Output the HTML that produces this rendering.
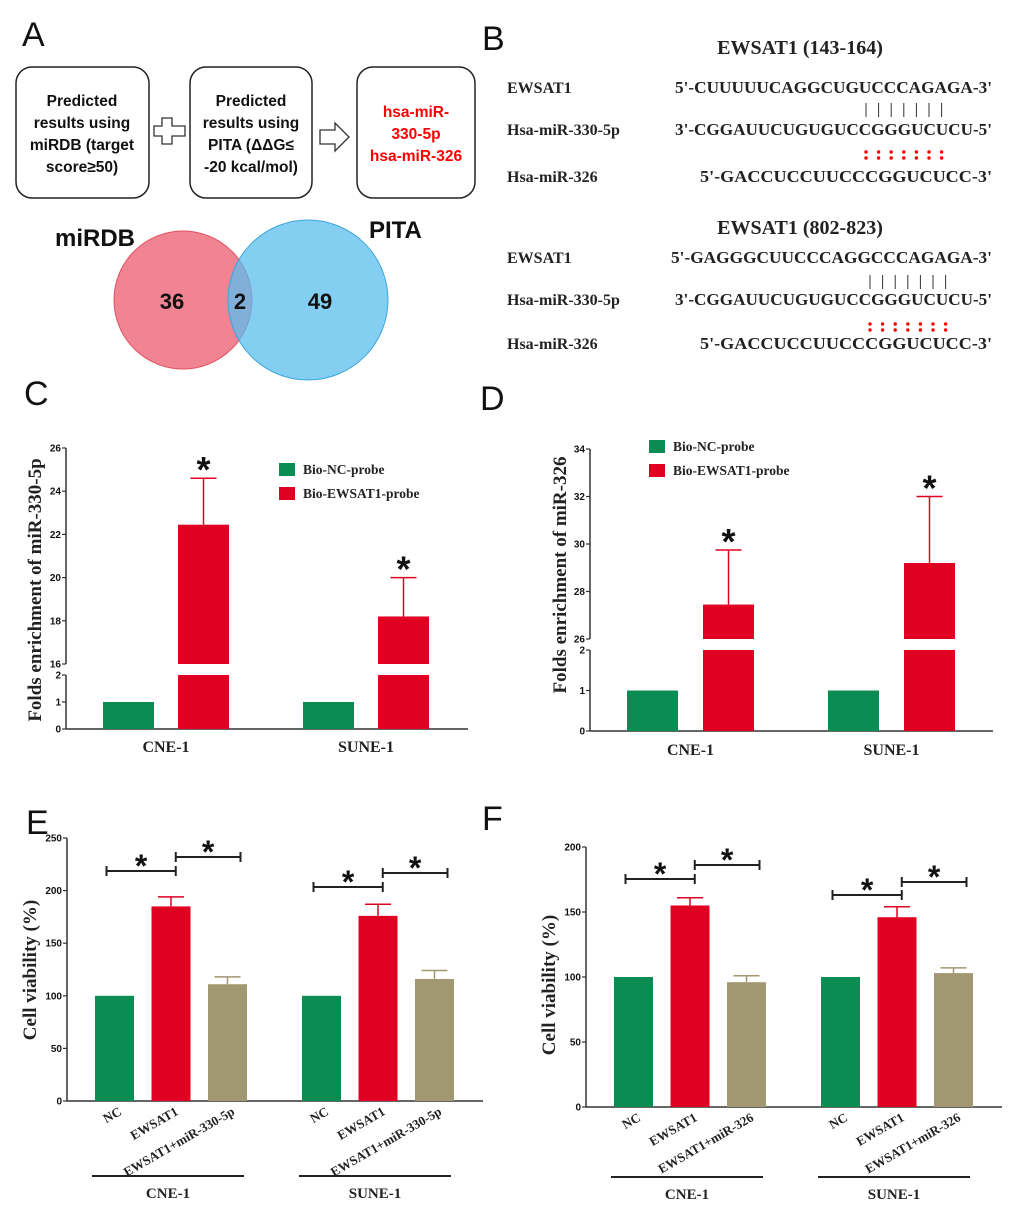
<!DOCTYPE html>
<html><head><meta charset="utf-8"><style>
html,body{margin:0;padding:0;background:#fff;}
svg{display:block;}
.pl{font-family:"Liberation Sans",sans-serif;font-size:34px;fill:#111;}
.tb{font-family:"Liberation Sans",sans-serif;font-weight:bold;fill:#111;}
.tm{font-family:"Liberation Serif",serif;font-weight:bold;fill:#222;}
</style></head><body>
<svg id="fig" width="1020" height="1224" viewBox="0 0 1020 1224" xmlns="http://www.w3.org/2000/svg">
<text class="pl" x="22" y="46">A</text>
<text class="pl" x="482" y="50">B</text>
<text class="pl" x="24" y="405">C</text>
<text class="pl" x="480" y="410">D</text>
<text class="pl" x="26" y="834">E</text>
<text class="pl" x="482" y="830">F</text>

<g>
<rect x="16" y="67" width="133" height="131" rx="16" fill="#fff" stroke="#222" stroke-width="1.5"/>
<g class="tb" font-size="15.5" text-anchor="middle">
<text x="82" y="106">Predicted</text><text x="82" y="128">results using</text><text x="82" y="150">miRDB (target</text><text x="82" y="172">score≥50)</text></g>
<path d="M162,118 h10 v8 h13 v10 h-13 v8 h-10 v-8 h-8 v-10 h8 z" fill="#fff" stroke="#333" stroke-width="1.3"/>
<rect x="190" y="67" width="122" height="131" rx="16" fill="#fff" stroke="#222" stroke-width="1.5"/>
<g class="tb" font-size="15.5" text-anchor="middle">
<text x="251" y="106">Predicted</text><text x="251" y="128">results using</text><text x="251" y="150">PITA (ΔΔG≤</text><text x="251" y="172">-20 kcal/mol)</text></g>
<path d="M320,130 h15 v-7 l14,14 l-14,14 v-7 h-15 z" fill="#fff" stroke="#333" stroke-width="1.3"/>
<rect x="357" y="67" width="118" height="131" rx="16" fill="#fff" stroke="#222" stroke-width="1.5"/>
<g class="tb" font-size="15.5" text-anchor="middle" style="fill:#f00">
<text x="416" y="117" style="fill:#f00">hsa-miR-</text><text x="416" y="139" style="fill:#f00">330-5p</text><text x="416" y="161" style="fill:#f00">hsa-miR-326</text></g>
</g>
<g>
<circle cx="183" cy="300" r="69" fill="#ef6f7f" fill-opacity="0.85" stroke="#e05060"/>
<circle cx="308" cy="300" r="80" fill="#5bbdee" fill-opacity="0.75" stroke="#3aa6de"/>
<text class="tb" font-size="24" x="55" y="246">miRDB</text>
<text class="tb" font-size="24" x="369" y="238">PITA</text>
<text class="tb" font-size="22" x="172" y="309" text-anchor="middle">36</text>
<text class="tb" font-size="22" x="240" y="309" text-anchor="middle">2</text>
<text class="tb" font-size="22" x="320" y="309" text-anchor="middle">49</text>
</g>

<g id="panelB"></g>
<g id="panelC"></g>
<g id="panelD"></g>
<g id="panelE"></g>
<g id="panelF"></g>
</svg>
<script>
const cGroups = ["CNE-1","SUNE-1"];
const cNC = [1,1];
const cEW = [22.45,18.2];
const cEWerr = [2.15,1.8];
const cUpperTicks = [16,18,20,22,24,26];
const cLowerTicks = [0,1,2];

const dGroups = ["CNE-1","SUNE-1"];
const dNC = [1,1];
const dEW = [27.45,29.2];
const dEWerr = [2.3,2.8];
const dUpperTicks = [26,28,30,32,34];
const dLowerTicks = [0,1,2];

const eGroups = ["CNE-1","SUNE-1"];
const eCats = ["NC","EWSAT1","EWSAT1+miR-330-5p"];
const eVals = [[100,185,111],[100,176,116]];
const eErrs = [[0,9,7],[0,11,8]];
const eTicks = [0,50,100,150,200,250];

const fGroups = ["CNE-1","SUNE-1"];
const fCats = ["NC","EWSAT1","EWSAT1+miR-326"];
const fVals = [[100,155,96],[100,146,103]];
const fErrs = [[0,6,5],[0,8,4]];
const fTicks = [0,50,100,150,200];

const NS="http://www.w3.org/2000/svg";
const GREEN="#0b8c52", RED="#e00022", KHAKI="#a19770";
function mk(parent,tag,attrs,text){
  const el=document.createElementNS(NS,tag);
  for(const k in attrs) el.setAttribute(k,attrs[k]);
  if(text!==undefined) el.textContent=text;
  parent.appendChild(el); return el;
}

(function(){
  const g=document.getElementById('panelB');
  const blocks=[
    {title:"EWSAT1 (143-164)",ty:54,rows:[93,135,182],bars:[103,117],barX:866,dotY:155,
     seqs:["5'-CUUUUUCAGGCUGUCCCAGAGA-3'","3'-CGGAUUCUGUGUCCGGGUCUCU-5'","5'-GACCUCCUUCCCGGUCUCC-3'"],starts:[675,675,700]},
    {title:"EWSAT1 (802-823)",ty:234,rows:[263,305,349],bars:[275,289],barX:870,dotY:327,
     seqs:["5'-GAGGGCUUCCCAGGCCCAGAGA-3'","3'-CGGAUUCUGUGUCCGGGUCUCU-5'","5'-GACCUCCUUCCCGGUCUCC-3'"],starts:[671,675,700]}
  ];
  const labels=["EWSAT1","Hsa-miR-330-5p","Hsa-miR-326"];
  blocks.forEach((b,bi)=>{
    const t=mk(g,'text',{x:800,y:b.ty,'text-anchor':'middle','class':'tm','font-size':'20'},b.title);
    
    
    b.rows.forEach((y,ri)=>{
      const l=mk(g,'text',{x:507,y:y,'class':'tm','font-size':'16'},labels[ri]);
      
      
      const s=mk(g,'text',{x:b.starts[ri],y:y,'class':'tm','font-size':'17',textLength:992-b.starts[ri],lengthAdjust:'spacingAndGlyphs'},b.seqs[ri]);
      
      
    });
    for(let i=0;i<7;i++){
      const x=b.barX+i*12.6;
      const ln=mk(g,'line',{x1:x,x2:x,y1:b.bars[0],y2:b.bars[1],stroke:'#333','stroke-width':1});
      
      
      for(const dy of [-3,3]){
        const c=mk(g,'circle',{cx:x,cy:b.dotY+dy,r:1.7,fill:'#f00'});
        
        
      }
    }
  });
})();

function brokenChart(id,o){
  const g=document.getElementById(id);
  const yU=v=>o.uTop+(o.uMax-v)*(o.uBot-o.uTop)/(o.uMax-o.uMin);
  const yL=v=>o.lBot-(v)*(o.lBot-o.lTop)/o.lMax;
  const ax=o.ax;
  let a=mk(g,'line',{x1:ax,x2:ax,y1:yU(o.uMax),y2:yU(o.uMin),stroke:'#333','stroke-width':1.5});
   
  a=mk(g,'line',{x1:ax,x2:ax,y1:yL(o.lMax),y2:yL(0),stroke:'#333','stroke-width':1.5});
   
  a=mk(g,'line',{x1:ax,x2:o.axEnd,y1:yL(0),y2:yL(0),stroke:'#333','stroke-width':1.5});
   
  o.uTicks.forEach(v=>{
    const y=yU(v);
    const t=mk(g,'line',{x1:ax-4,x2:ax,y1:y,y2:y,stroke:'#333','stroke-width':1.2});
     
    const l=mk(g,'text',{x:ax-5,y:y+3.5,'text-anchor':'end','class':'tb','font-size':'10'},v);
     
  });
  o.lTicks.forEach(v=>{
    const y=yL(v);
    const t=mk(g,'line',{x1:ax-4,x2:ax,y1:y,y2:y,stroke:'#333','stroke-width':1.2});
     
    const l=mk(g,'text',{x:ax-5,y:y+3.5,'text-anchor':'end','class':'tb','font-size':'10'},v);
     
  });
  const yl=mk(g,'text',{x:0,y:0,'text-anchor':'middle','class':'tm','font-size':'19',transform:`translate(${o.ylx},${o.yly}) rotate(-90)`},o.ytitle);
   
  o.groups.forEach((grp,i)=>{
    const gx=o.g0+i*o.gstep;
    const bw=51;
    const b1=mk(g,'rect',{x:gx,y:yL(o.nc[i]),width:bw,height:yL(0)-yL(o.nc[i]),fill:GREEN});
     
    const rx=gx+o.off;
    const b2=mk(g,'rect',{x:rx,y:yL(o.lMax),width:bw,height:yL(0)-yL(o.lMax),fill:RED});
     
    const b3=mk(g,'rect',{x:rx,y:yU(o.ew[i]),width:bw,height:yU(o.uMin)-yU(o.ew[i]),fill:RED});
     
    const cx=rx+bw/2, ye=yU(o.ew[i]+o.err[i]);
    const e1=mk(g,'line',{x1:cx,x2:cx,y1:yU(o.ew[i]),y2:ye,stroke:RED,'stroke-width':1.5});
     
    const e2=mk(g,'line',{x1:cx-13,x2:cx+13,y1:ye,y2:ye,stroke:RED,'stroke-width':1.5});
     
    const st=mk(g,'text',{x:cx,y:ye+4,'text-anchor':'middle','class':'tb','font-size':'36'},'*');
     
    const xl=mk(g,'text',{x:(gx+rx+bw)/2,y:o.xly,'text-anchor':'middle','class':'tm','font-size':'16'},grp);
     
  });
  [["Bio-NC-probe",GREEN],["Bio-EWSAT1-probe",RED]].forEach((L,i)=>{
    const y=o.legY+i*24;
    const r=mk(g,'rect',{x:o.legX,y:y,width:16,height:13,fill:L[1]});
     
    const t=mk(g,'text',{x:o.legX+24,y:y+11,'class':'tm','font-size':'13.5'},L[0]);
     
  });
}
brokenChart('panelC',{ax:66,axEnd:468,uTop:448,uBot:664,uMin:16,uMax:26,lTop:675,lBot:729,lMax:2,
  uTicks:cUpperTicks,lTicks:cLowerTicks,groups:cGroups,nc:cNC,ew:cEW,err:cEWerr,g0:103,gstep:200,off:75,
  ylx:41,yly:590,ytitle:"Folds enrichment of miR-330-5p",xly:752,legX:279,legY:463});
brokenChart('panelD',{ax:590,axEnd:993,uTop:449,uBot:639,uMin:26,uMax:34,lTop:650,lBot:731,lMax:2,
  uTicks:dUpperTicks,lTicks:dLowerTicks,groups:dGroups,nc:dNC,ew:dEW,err:dEWerr,g0:627,gstep:201,off:76,
  ylx:566,yly:575,ytitle:"Folds enrichment of miR-326",xly:755,legX:649,legY:440});

function vChart(id,o){
  const g=document.getElementById(id);
  const y=v=>o.y0-v*(o.y0-o.yTop)/o.yMax;
  let a=mk(g,'line',{x1:o.ax,x2:o.ax,y1:y(o.yMax),y2:y(0),stroke:'#333','stroke-width':1.5});
   
  a=mk(g,'line',{x1:o.ax,x2:o.axEnd,y1:y(0),y2:y(0),stroke:'#333','stroke-width':1.5});
   
  o.ticks.forEach(v=>{
    const t=mk(g,'line',{x1:o.ax-4,x2:o.ax,y1:y(v),y2:y(v),stroke:'#333','stroke-width':1.2});
     
    const l=mk(g,'text',{x:o.ax-5,y:y(v)+3.5,'text-anchor':'end','class':'tb','font-size':'10'},v);
     
  });
  const yl=mk(g,'text',{x:0,y:0,'text-anchor':'middle','class':'tm','font-size':'19',transform:`translate(${o.ylx},${o.yly}) rotate(-90)`},"Cell viability (%)");
   
  const cols=[GREEN,RED,KHAKI], bw=39;
  o.groups.forEach((grp,gi)=>{
    const centers=[];
    o.vals[gi].forEach((v,ci)=>{
      const x=o.g0+gi*o.gstep+ci*o.cstep;
      const cx=x+bw/2; centers.push(cx);
      const b=mk(g,'rect',{x:x,y:y(v),width:bw,height:y(0)-y(v),fill:cols[ci]});
       
      if(o.errs[gi][ci]>0){
        const ye=y(v+o.errs[gi][ci]);
        const e1=mk(g,'line',{x1:cx,x2:cx,y1:y(v),y2:ye,stroke:cols[ci],'stroke-width':1.5});
         
        const e2=mk(g,'line',{x1:cx-13,x2:cx+13,y1:ye,y2:ye,stroke:cols[ci],'stroke-width':1.5});
         
      }
      const tl=mk(g,'text',{x:0,y:0,'text-anchor':'end','class':'tm','font-size':'13',transform:`translate(${cx+8},${y(0)+13}) rotate(-30)`},o.cats[ci]);
       
    });
    const br=o.brk[gi];
    [[centers[0]-8,centers[1]+(o.cstep-bw)/2-4,br[0]],[centers[1]+(o.cstep-bw)/2-4,centers[2]+13,br[1]]].forEach(B=>{
      const p=mk(g,'path',{d:`M${B[0]},${B[2]-5}v10M${B[0]},${B[2]}H${B[1]}M${B[1]},${B[2]-5}v10`,stroke:'#222','stroke-width':2,fill:'none'});
       
      const s=mk(g,'text',{x:(B[0]+B[1])/2,y:B[2]+6,'text-anchor':'middle','class':'tb','font-size':'32'},'*');
       
    });
    const ux0=o.g0+gi*o.gstep-3, ux1=o.g0+gi*o.gstep+2*o.cstep+bw-3;
    const ul=mk(g,'line',{x1:ux0,x2:ux1,y1:o.uly,y2:o.uly,stroke:'#222','stroke-width':2});
     
    const gl=mk(g,'text',{x:(ux0+ux1)/2,y:o.uly+22,'text-anchor':'middle','class':'tm','font-size':'15'},grp);
     
  });
}
vChart('panelE',{ax:67,axEnd:483,y0:1101,yTop:838,yMax:250,ticks:eTicks,groups:eGroups,cats:eCats,vals:eVals,errs:eErrs,
  g0:95,gstep:207,cstep:56.5,brk:[[871,857],[887,873]],uly:1176,ylx:36,yly:970});
vChart('panelF',{ax:586,axEnd:1002,y0:1107,yTop:847,yMax:200,ticks:fTicks,groups:fGroups,cats:fCats,vals:fVals,errs:fErrs,
  g0:614,gstep:207,cstep:56.5,brk:[[879,865],[895,882]],uly:1177,ylx:555,yly:985});
</script>
</body></html>
